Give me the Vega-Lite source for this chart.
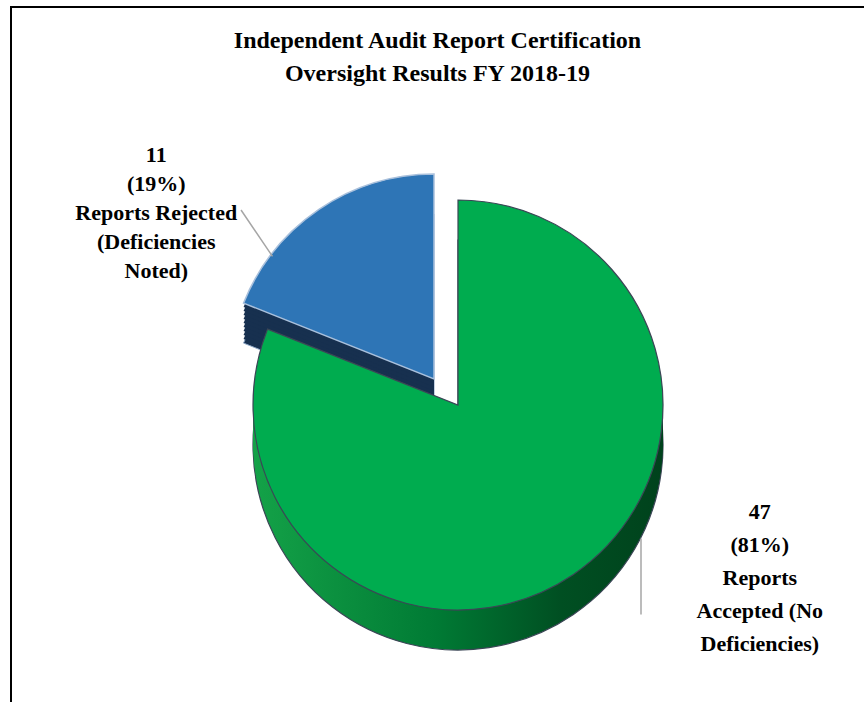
{
  "$schema": "https://vega.github.io/schema/vega-lite/v6.json",
  "width": 853,
  "height": 695,
  "autosize": "none",
  "padding": {"left": 11, "top": 7, "right": 0, "bottom": 0},
  "background": "white",
  "config": {"view": {"stroke": null}, "font": "Liberation Serif"},
  "title": {
    "text": ["Independent Audit Report Certification", "Oversight Results FY 2018-19"],
    "font": "Liberation Serif",
    "fontSize": 24,
    "fontWeight": "bold",
    "color": "#000000",
    "anchor": "middle",
    "lineHeight": 33,
    "offset": -82
  },
  "data": {
    "values": [
      {"order": 1, "category": "Reports Accepted (No Deficiencies)", "count": 47, "label": "47\n(81%)\nReports\nAccepted (No\nDeficiencies)"},
      {"order": 2, "category": "Reports Rejected (Deficiencies Noted)", "count": 11, "label": "11\n(19%)\nReports Rejected\n(Deficiencies\nNoted)"}
    ]
  },
  "layer": [
    {
      "transform": [
        {"stack": "count", "groupby": [], "sort": [{"field": "order"}], "as": ["t0", "t1"]},
        {"filter": "datum.order === 2"}
      ],
      "layer": [
        {"mark": {"type": "arc", "radius": 205, "xOffset": -3.5, "yOffset": 64.5, "fill": "#17304f", "stroke": "#8aa4c4", "strokeWidth": 1}},
        {"mark": {"type": "arc", "radius": 205, "xOffset": -3.5, "yOffset": 60.5, "fill": "#17304f"}},
        {"mark": {"type": "arc", "radius": 205, "xOffset": -3.5, "yOffset": 56.5, "fill": "#17304f"}},
        {"mark": {"type": "arc", "radius": 205, "xOffset": -3.5, "yOffset": 52.5, "fill": "#17304f"}},
        {"mark": {"type": "arc", "radius": 205, "xOffset": -3.5, "yOffset": 48.5, "fill": "#17304f"}},
        {"mark": {"type": "arc", "radius": 205, "xOffset": -3.5, "yOffset": 44.5, "fill": "#17304f"}},
        {"mark": {"type": "arc", "radius": 205, "xOffset": -3.5, "yOffset": 40.5, "fill": "#17304f"}},
        {"mark": {"type": "arc", "radius": 205, "xOffset": -3.5, "yOffset": 36.5, "fill": "#17304f"}},
        {"mark": {"type": "arc", "radius": 205, "xOffset": -3.5, "yOffset": 32.5, "fill": "#17304f"}},
        {"mark": {"type": "arc", "radius": 205, "xOffset": -3.5, "yOffset": 28.5, "fill": "#17304f"}},
        {"mark": {"type": "arc", "radius": 205, "xOffset": -3.5, "yOffset": 24.5, "fill": "#2e75b6", "stroke": "#a9c0dc", "strokeWidth": 1.5}}
      ],
      "encoding": {
        "theta": {"field": "t0", "type": "quantitative", "scale": {"domain": [0, 58]}},
        "theta2": {"field": "t1"}
      }
    },
    {
      "transform": [
        {"stack": "count", "groupby": [], "sort": [{"field": "order"}], "as": ["t0", "t1"]},
        {"filter": "datum.order === 1"}
      ],
      "layer": [
        {"mark": {"type": "arc", "radius": 205, "xOffset": 20.5, "yOffset": 90.5, "stroke": "#3b4656", "strokeWidth": 1.2,
          "fill": {"gradient": "linear", "x1": 0, "y1": 0, "x2": 1, "y2": 0, "stops": [{"offset": 0, "color": "#14a248"}, {"offset": 0.45, "color": "#007a34"}, {"offset": 0.75, "color": "#004f22"}, {"offset": 1, "color": "#00421c"}]}}},
        {"mark": {"type": "arc", "radius": 205, "xOffset": 20.5, "yOffset": 86.5,
          "fill": {"gradient": "linear", "x1": 0, "y1": 0, "x2": 1, "y2": 0, "stops": [{"offset": 0, "color": "#14a248"}, {"offset": 0.45, "color": "#007a34"}, {"offset": 0.75, "color": "#004f22"}, {"offset": 1, "color": "#00421c"}]}}},
        {"mark": {"type": "arc", "radius": 205, "xOffset": 20.5, "yOffset": 82.5,
          "fill": {"gradient": "linear", "x1": 0, "y1": 0, "x2": 1, "y2": 0, "stops": [{"offset": 0, "color": "#14a248"}, {"offset": 0.45, "color": "#007a34"}, {"offset": 0.75, "color": "#004f22"}, {"offset": 1, "color": "#00421c"}]}}},
        {"mark": {"type": "arc", "radius": 205, "xOffset": 20.5, "yOffset": 78.5,
          "fill": {"gradient": "linear", "x1": 0, "y1": 0, "x2": 1, "y2": 0, "stops": [{"offset": 0, "color": "#14a248"}, {"offset": 0.45, "color": "#007a34"}, {"offset": 0.75, "color": "#004f22"}, {"offset": 1, "color": "#00421c"}]}}},
        {"mark": {"type": "arc", "radius": 205, "xOffset": 20.5, "yOffset": 74.5,
          "fill": {"gradient": "linear", "x1": 0, "y1": 0, "x2": 1, "y2": 0, "stops": [{"offset": 0, "color": "#14a248"}, {"offset": 0.45, "color": "#007a34"}, {"offset": 0.75, "color": "#004f22"}, {"offset": 1, "color": "#00421c"}]}}},
        {"mark": {"type": "arc", "radius": 205, "xOffset": 20.5, "yOffset": 70.5,
          "fill": {"gradient": "linear", "x1": 0, "y1": 0, "x2": 1, "y2": 0, "stops": [{"offset": 0, "color": "#14a248"}, {"offset": 0.45, "color": "#007a34"}, {"offset": 0.75, "color": "#004f22"}, {"offset": 1, "color": "#00421c"}]}}},
        {"mark": {"type": "arc", "radius": 205, "xOffset": 20.5, "yOffset": 66.5,
          "fill": {"gradient": "linear", "x1": 0, "y1": 0, "x2": 1, "y2": 0, "stops": [{"offset": 0, "color": "#14a248"}, {"offset": 0.45, "color": "#007a34"}, {"offset": 0.75, "color": "#004f22"}, {"offset": 1, "color": "#00421c"}]}}},
        {"mark": {"type": "arc", "radius": 205, "xOffset": 20.5, "yOffset": 62.5,
          "fill": {"gradient": "linear", "x1": 0, "y1": 0, "x2": 1, "y2": 0, "stops": [{"offset": 0, "color": "#14a248"}, {"offset": 0.45, "color": "#007a34"}, {"offset": 0.75, "color": "#004f22"}, {"offset": 1, "color": "#00421c"}]}}},
        {"mark": {"type": "arc", "radius": 205, "xOffset": 20.5, "yOffset": 58.5,
          "fill": {"gradient": "linear", "x1": 0, "y1": 0, "x2": 1, "y2": 0, "stops": [{"offset": 0, "color": "#14a248"}, {"offset": 0.45, "color": "#007a34"}, {"offset": 0.75, "color": "#004f22"}, {"offset": 1, "color": "#00421c"}]}}},
        {"mark": {"type": "arc", "radius": 205, "xOffset": 20.5, "yOffset": 54.5,
          "fill": {"gradient": "linear", "x1": 0, "y1": 0, "x2": 1, "y2": 0, "stops": [{"offset": 0, "color": "#14a248"}, {"offset": 0.45, "color": "#007a34"}, {"offset": 0.75, "color": "#004f22"}, {"offset": 1, "color": "#00421c"}]}}},
        {"mark": {"type": "arc", "radius": 205, "xOffset": 20.5, "yOffset": 50.5, "fill": "#00ac4f", "stroke": "#3b4656", "strokeWidth": 1.2}}
      ],
      "encoding": {
        "theta": {"field": "t0", "type": "quantitative", "scale": {"domain": [0, 58]}},
        "theta2": {"field": "t1"}
      }
    },
    {
      "transform": [
        {"stack": "count", "groupby": [], "sort": [{"field": "order"}], "as": ["t0", "t1"]},
        {"filter": "datum.order === 2"}
      ],
      "mark": {"type": "arc", "radius": 261, "radius2": 205, "padAngle": 3, "xOffset": -50, "yOffset": 71.5, "fillOpacity": 0, "stroke": "#a6a6a6", "strokeWidth": 1.5},
      "encoding": {
        "theta": {"field": "t0", "type": "quantitative", "scale": {"domain": [0, 58]}},
        "theta2": {"field": "t1"}
      }
    },
    {
      "transform": [
        {"stack": "count", "groupby": [], "sort": [{"field": "order"}], "as": ["t0", "t1"]},
        {"filter": "datum.order === 1"}
      ],
      "mark": {"type": "arc", "radius": 76, "radius2": 0, "xOffset": 203.5, "yOffset": 260, "fillOpacity": 0, "stroke": "#a6a6a6", "strokeWidth": 1.5},
      "encoding": {
        "theta": {"field": "t0", "type": "quantitative", "scale": {"domain": [0, 58]}},
        "theta2": {"field": "t0"}
      }
    },
    {
      "mark": {"type": "text", "radius": 200, "dx": -169, "dy": -34, "font": "Liberation Serif", "fontSize": 22, "fontWeight": "bold", "lineBreak": "\n", "lineHeight": 29, "align": "center", "baseline": "middle", "color": "#000000"},
      "encoding": {
        "theta": {"field": "count", "type": "quantitative", "stack": true, "scale": {"domain": [0, 58]}},
        "order": {"field": "order", "type": "quantitative"},
        "text": {"condition": {"test": "datum.order === 2", "field": "label"}, "value": ""}
      }
    },
    {
      "mark": {"type": "text", "radius": 300, "dx": 154, "dy": -91, "font": "Liberation Serif", "fontSize": 22, "fontWeight": "bold", "lineBreak": "\n", "lineHeight": 33, "align": "center", "baseline": "middle", "color": "#000000"},
      "encoding": {
        "theta": {"field": "count", "type": "quantitative", "stack": true, "scale": {"domain": [0, 58]}},
        "order": {"field": "order", "type": "quantitative"},
        "text": {"condition": {"test": "datum.order === 1", "field": "label"}, "value": ""}
      }
    },
    {
      "data": {"values": [{"frame": 1}]},
      "mark": {"type": "rect", "fillOpacity": 0, "stroke": "#000000", "strokeWidth": 2, "strokeDash": [853, 1548, 700, 20]},
      "encoding": {}
    }
  ]
}
